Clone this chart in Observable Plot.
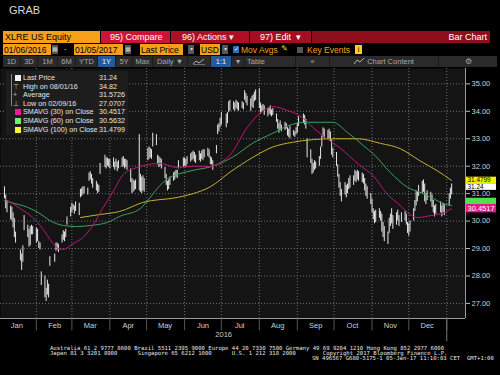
<!DOCTYPE html>
<html><head><meta charset="utf-8">
<script src="https://cdn.jsdelivr.net/npm/d3@7"></script>
<script src="https://cdn.jsdelivr.net/npm/@observablehq/plot@0.6"></script>
<style>
html,body{margin:0;padding:0;background:#000;}
body{width:500px;height:375px;position:relative;overflow:hidden;font-family:"Liberation Sans",Arial,sans-serif;}
.a{position:absolute;white-space:pre;box-sizing:border-box;line-height:1;}
.o{background:#f6a01a;color:#000;font-size:8.5px;height:11px;top:44px;padding:1.5px 0 0 1px;}
.r1{top:31px;height:12px;color:#fff;font-size:9px;padding-top:1.5px;}
.b{background:#2a2a2a;color:#a8a8a8;font-size:7.5px;height:11px;top:56px;text-align:center;padding-top:2px;}
.ic{background:#555;height:9px;top:45px;width:6px;color:#ccc;font-size:6px;text-align:center;padding-top:1px;}
.lg{font-size:7.2px;color:#e4e4e4;left:23px;}
.lv{font-size:7.2px;color:#e4e4e4;left:99px;}
.sq{width:6px;height:6px;left:15px;}
.ft{font-family:"DejaVu Sans Mono",monospace;font-size:5.6px;color:#e6e6e6;}
#chart{position:absolute;left:0;top:66px;}
</style></head><body>
<div class="a" style="left:9px;top:5px;font-size:11px;color:#d8d8d8;">GRAB</div>

<div class="a r1" style="left:3px;width:97px;background:#f6a01a;color:#000;padding-left:2px;">XLRE US Equity</div>
<div class="a r1" style="left:101px;width:69px;background:#cf1237;padding-left:9px;">95) Compare</div>
<div class="a r1" style="left:171px;width:78px;background:#ad1024;padding-left:11px;">96) Actions ▾</div>
<div class="a r1" style="left:250px;width:61px;background:#a30f20;padding-left:10px;">97) Edit  ▾</div>
<div class="a r1" style="left:312px;width:178px;background:#8e0e1d;text-align:right;padding-right:3px;">Bar Chart</div>

<div class="a o" style="left:3px;width:48px;">01/06/2016</div>
<div class="a ic" style="left:52px;">▦</div>
<div class="a" style="left:64px;top:45px;font-size:8px;color:#ccc;">-</div>
<div class="a o" style="left:74px;width:49px;">01/05/2017</div>
<div class="a ic" style="left:125px;">▦</div>
<div class="a o" style="left:140px;width:43px;">Last Price</div>
<div class="a ic" style="left:188px;">▾</div>
<div class="a o" style="left:200px;width:20px;">USD</div>
<div class="a ic" style="left:222px;">▾</div>
<div class="a" style="left:233px;top:46px;width:6px;height:7px;background:#2f6fb8;color:#fff;font-size:6px;text-align:center;">✓</div>
<div class="a" style="left:241px;top:45.5px;font-size:8.5px;color:#f6a01a;">Mov Avgs</div>
<div class="a" style="left:281px;top:45px;font-size:8px;color:#f2d21a;">✎</div>
<div class="a" style="left:297px;top:46.5px;width:6px;height:6px;background:#555;"></div>
<div class="a" style="left:307px;top:45.5px;font-size:8.5px;color:#f6a01a;">Key Events</div>
<div class="a" style="left:355px;top:45px;width:7px;height:9px;background:#f2d21a;color:#000;font-size:7px;text-align:center;padding-top:1px;">i</div>

<div class="a" style="left:3px;top:56px;width:494px;height:11px;background:#1c1c1c;"></div>
<div class="a b" style="left:3px;width:17px;">1D</div>
<div class="a b" style="left:21px;width:16px;">3D</div>
<div class="a b" style="left:38px;width:19px;">1M</div>
<div class="a b" style="left:58px;width:17px;">6M</div>
<div class="a b" style="left:76px;width:21px;">YTD</div>
<div class="a b" style="left:98px;width:17px;background:#245a9c;color:#e4eefa;">1Y</div>
<div class="a b" style="left:116px;width:16px;">5Y</div>
<div class="a b" style="left:133px;width:19px;">Max</div>
<div class="a b" style="left:153px;width:34px;">Daily ▼</div>
<div class="a b" style="left:188px;width:22px;"><svg width="12" height="7" style="display:block;margin:0 auto"><polyline points="0,6 3,3 6,5 11,1" fill="none" stroke="#b0b0b0" stroke-width="1"/><line x1="0" y1="7" x2="12" y2="7" stroke="#b0b0b0"/></svg></div>
<div class="a b" style="left:211px;width:20px;background:#245a9c;color:#e4eefa;">1:1</div>
<div class="a b" style="left:232px;width:12px;">▾</div>
<div class="a b" style="left:245px;width:50px;text-align:left;padding-left:2px;">Table</div>
<div class="a b" style="left:296px;width:33px;">«</div>
<div class="a b" style="left:330px;width:108px;"><svg width="11" height="7" style="display:inline-block;vertical-align:-1px"><polyline points="0,6 3,2 6,4 10,0" fill="none" stroke="#b0b0b0"/></svg> Chart Content</div>
<div class="a b" style="left:439px;width:58px;">⚙</div>

<div id="chart"></div>

<div class="a" style="left:6px;top:71px;width:122px;height:64px;background:#1d1d1d;"></div>
<div class="a" style="left:11px;top:74px;width:1px;height:32px;background:#888;"></div>
<div class="a sq" style="top:75px;background:#f2f2f2;"></div>
<div class="a" style="left:13px;top:82.5px;font-size:7px;color:#bbb;">⊤</div>
<div class="a" style="left:13px;top:91px;font-size:7px;color:#bbb;">+</div>
<div class="a" style="left:13px;top:99.5px;font-size:7px;color:#bbb;">⊥</div>
<div class="a sq" style="top:109px;background:#ee1a8e;"></div>
<div class="a sq" style="top:118px;background:#6ef26e;"></div>
<div class="a sq" style="top:126.5px;background:#f5f53a;"></div>
<div id="legend"></div>

<div class="a ft" style="left:50px;top:346px;">Australia 61 2 9777 8600 Brazil 5511 2395 9000 Europe 44 20 7330 7500 Germany 49 69 9204 1210 Hong Kong 852 2977 6000</div>
<div class="a ft" style="left:50px;top:351px;">Japan 81 3 3201 8900      Singapore 65 6212 1000      U.S. 1 212 318 2000        Copyright 2017 Bloomberg Finance L.P.</div>
<div class="a ft" style="left:312px;top:356px;">SN 496567 G680-5175-1 05-Jan-17 11:10:03 CET  GMT+1:00</div>

<script>
// ---- Daily bars: [day, low, high] per month ----
const jan16 = [[6,30.80,31.25],[7,30.45,30.95],[8,30.30,30.75],[11,30.05,30.55],[12,30.00,30.50],[13,29.75,30.30],[14,29.40,30.10],[15,29.20,29.60],[19,28.55,28.95],[20,28.20,28.80],[21,28.50,29.10],[22,29.65,30.20],[25,29.40,29.85],[26,29.05,29.70],[27,29.10,29.80],[28,29.50,29.85],[29,29.50,29.80]];
const feb16 = [[1,29.20,29.75],[2,29.25,29.70],[3,29.00,29.25],[4,28.95,29.20],[5,27.65,28.15],[8,27.20,28.00],[9,27.07,27.55],[10,27.30,27.85],[11,27.20,27.70],[12,28.35,28.70],[16,28.50,28.80],[17,28.90,29.20],[18,28.95,29.20],[19,28.85,29.15],[22,29.20,29.50],[23,29.30,29.65],[24,29.25,29.60],[25,29.40,29.70],[26,29.85,30.15],[29,30.15,30.50]];
const mar16 = [[1,30.30,30.65],[2,30.40,30.60],[3,30.25,30.55],[4,30.35,30.70],[7,30.20,30.65],[8,30.85,31.15],[9,30.90,31.20],[10,30.95,31.25],[11,31.00,31.25],[14,30.95,31.20],[15,31.45,31.75],[16,31.50,31.80],[17,31.35,31.70],[18,31.20,31.55],[21,31.10,31.45],[22,31.00,31.35],[23,31.05,31.30],[24,31.70,32.10],[28,31.95,32.40],[29,31.90,32.30],[30,32.00,32.30],[31,31.95,32.25]];
const apr16 = [[1,31.90,32.25],[4,31.95,32.30],[5,31.85,32.15],[6,31.95,32.25],[7,31.80,32.15],[8,31.90,32.20],[11,31.95,32.30],[12,32.00,32.35],[13,31.90,32.25],[14,31.95,32.25],[15,31.85,32.20],[18,31.40,31.90],[19,31.00,31.55],[20,31.05,31.50],[21,31.10,31.45],[22,31.15,31.50],[25,31.10,33.15],[26,31.05,31.70],[27,31.00,31.60],[28,31.10,31.65],[29,31.05,31.55]];
const may16 = [[2,32.20,32.65],[3,32.25,32.70],[4,32.30,32.65],[5,32.25,32.60],[6,32.70,33.20],[9,32.75,33.15],[10,32.05,32.40],[11,31.95,32.35],[12,32.00,32.30],[13,31.90,32.25],[16,31.55,31.95],[17,31.30,31.70],[18,31.10,31.45],[19,31.15,31.50],[20,31.30,31.60],[23,31.45,31.75],[24,31.50,31.80],[25,31.60,31.85],[26,31.55,31.85],[27,31.90,32.20],[31,31.95,32.30]];
const jun16 = [[1,32.00,32.30],[2,31.95,32.25],[3,32.05,32.35],[6,32.15,32.45],[7,32.20,32.50],[8,32.25,32.55],[9,32.15,32.50],[10,32.10,32.40],[13,32.20,32.55],[14,32.15,32.45],[15,32.25,32.55],[16,32.20,32.60],[17,32.30,32.60],[20,32.35,32.65],[21,32.30,32.60],[22,32.05,32.35],[23,32.05,32.30],[24,31.85,32.20],[27,32.45,32.75],[28,33.15,33.50],[29,33.25,33.55],[30,33.40,33.75]];
const jul16 = [[1,33.50,33.95],[5,33.40,33.90],[6,33.55,33.95],[7,33.95,34.35],[8,34.00,34.40],[11,34.05,34.35],[12,34.00,34.30],[13,34.10,34.40],[14,34.05,34.35],[15,34.00,34.30],[18,34.10,34.35],[19,34.05,34.30],[20,34.40,34.75],[21,34.30,34.65],[22,34.20,34.55],[25,34.00,34.45],[26,34.15,34.55],[27,34.10,34.60],[28,34.35,34.70],[29,34.40,34.78]];
const aug16 = [[1,34.10,34.82],[2,33.90,34.30],[3,33.95,34.20],[4,34.00,34.25],[5,33.85,34.20],[8,33.80,34.10],[9,33.90,34.15],[10,33.85,34.20],[11,33.80,34.05],[12,33.85,34.10],[15,33.60,33.90],[16,33.35,33.70],[17,33.20,33.55],[18,33.30,33.65],[19,33.25,33.50],[22,33.30,33.60],[23,33.35,33.55],[24,33.10,33.40],[25,33.05,33.35],[26,33.00,33.45],[29,33.10,33.30],[30,33.05,33.25],[31,33.15,33.40]];
const sep16 = [[1,33.20,33.55],[2,33.45,33.80],[6,33.55,33.90],[7,33.50,33.85],[8,33.35,33.70],[9,32.30,33.00],[12,32.10,32.60],[13,31.70,32.25],[14,31.75,32.10],[15,31.85,32.20],[16,31.90,32.15],[19,32.00,32.35],[20,32.25,32.70],[21,32.70,33.10],[22,33.05,33.40],[23,33.00,33.35],[26,32.95,33.30],[27,33.00,33.35],[28,32.90,33.25],[29,32.40,32.95],[30,32.30,32.65]];
const oct16 = [[3,32.00,32.50],[4,31.60,32.05],[5,31.20,31.70],[6,30.90,31.40],[7,30.70,31.15],[10,30.95,31.40],[11,30.85,31.30],[12,31.00,31.35],[13,31.15,31.55],[14,31.20,31.65],[17,31.30,31.65],[18,31.45,31.85],[19,31.40,31.80],[20,31.50,31.85],[21,31.45,31.80],[24,31.40,31.75],[25,31.35,31.70],[26,31.10,31.55],[27,30.90,31.35],[28,30.80,31.25],[31,30.60,31.00]];
const nov16 = [[1,30.30,30.80],[2,30.05,30.45],[3,29.90,30.35],[4,29.95,30.40],[7,30.10,30.45],[8,30.00,30.35],[9,29.60,30.25],[10,29.40,29.95],[11,29.25,29.80],[14,29.15,29.60],[15,29.55,30.10],[16,29.80,30.25],[17,29.90,30.45],[18,29.70,30.20],[21,29.85,30.30],[22,30.00,30.40],[23,29.80,30.20],[25,29.95,30.30],[28,30.00,30.35],[29,29.85,30.25],[30,29.55,29.95]];
const dec16 = [[1,29.45,29.90],[2,29.60,30.00],[5,30.00,30.45],[6,30.35,30.75],[7,30.55,31.10],[8,30.70,31.05],[9,30.90,31.30],[12,31.00,31.45],[13,31.05,31.50],[14,30.70,31.35],[15,30.60,31.00],[16,30.75,31.10],[19,30.70,31.05],[20,30.50,30.95],[21,30.30,30.75],[22,30.15,30.55],[23,30.25,30.60],[27,30.30,30.70],[28,30.15,30.55],[29,30.30,30.65],[30,30.20,30.60]];
const jan17 = [[3,30.55,31.00],[4,30.80,31.20],[5,30.95,31.35]];

// ---- Moving averages: [date, value] ----
const ma30 = [["2016-01-06",30.82],["2016-01-19",30.45],["2016-01-29",30.13],["2016-02-06",29.73],["2016-02-14",29.22],["2016-02-19",29.00],["2016-02-23",28.97],["2016-03-02",29.18],["2016-03-10",29.40],["2016-03-18",29.84],["2016-03-26",30.45],["2016-04-04",31.10],["2016-04-12",31.70],["2016-04-23",31.95],["2016-05-12",32.10],["2016-05-26",31.95],["2016-06-08",32.00],["2016-06-22",31.99],["2016-06-30",32.13],["2016-07-08",32.40],["2016-07-22",33.40],["2016-08-02",33.95],["2016-08-12",34.17],["2016-08-24",34.03],["2016-09-03",33.84],["2016-09-14",33.40],["2016-09-25",33.00],["2016-10-06",32.66],["2016-10-22",32.03],["2016-11-02",31.65],["2016-11-13",31.00],["2016-11-24",30.57],["2016-12-02",30.24],["2016-12-08",30.13],["2016-12-19",30.20],["2016-12-27",30.27],["2017-01-05",30.45]];
const ma60 = [["2016-01-06",30.75],["2016-01-11",30.68],["2016-01-25",30.50],["2016-02-04",30.27],["2016-02-12",30.02],["2016-02-23",29.84],["2016-03-05",29.80],["2016-03-16",29.84],["2016-03-30",29.95],["2016-04-09",30.17],["2016-04-26",30.46],["2016-05-04",30.87],["2016-05-12",31.30],["2016-05-20",31.60],["2016-05-26",31.70],["2016-06-08",31.85],["2016-06-24",32.00],["2016-07-11",32.35],["2016-07-27",32.85],["2016-08-12",33.20],["2016-08-26",33.50],["2016-09-08",33.60],["2016-09-30",33.60],["2016-10-12",33.23],["2016-10-25",32.75],["2016-11-02",32.45],["2016-11-16",31.77],["2016-11-30",31.23],["2016-12-10",31.05],["2016-12-21",30.82],["2016-12-29",30.64],["2017-01-05",30.56]];
const ma100 = [["2016-03-08",30.13],["2016-03-24",30.24],["2016-04-09",30.35],["2016-04-28",30.68],["2016-05-26",30.86],["2016-06-08",31.00],["2016-06-22",31.25],["2016-07-08",31.78],["2016-07-27",32.33],["2016-08-12",32.70],["2016-08-28",32.87],["2016-09-14",32.97],["2016-09-30",33.00],["2016-10-20",33.00],["2016-11-08",32.83],["2016-11-24",32.64],["2016-12-10",32.20],["2016-12-24",31.84],["2017-01-05",31.48]];

// ---- Axis / legend text ----
const yTicks = [27, 28, 29, 30, 31, 32, 33, 34, 35];
const yearLabel = "2016";
const legendNames = ["Last Price", "High on 08/01/16", "Average", "Low on 02/09/16", "SMAVG (30) on Close", "SMAVG (60) on Close", "SMAVG (100) on Close"];
const legendValues = ["31.24", "34.82", "31.5726", "27.0707", "30.4517", "30.5632", "31.4799"];
// right-edge tags: value, box colour, text colour, text shown (the 60-day tag sits hidden under the 30-day one)
const tagValues = [31.4799, 31.24, 30.5632, 30.4517];
const tagColors = ["#f5f000", "#ffffff", "#4fe04f", "#e8168a"];
const tagTextColors = ["#000", "#000", "#000", "#fff"];
const tagLabels = ["31.4799", "31.24", "", "30.4517"];
const tagHeights = [6.6, 6.6, 8.4, 8.4];
const tagShift = [0, 0, -3.2, 0];

// legend text
const lg = document.getElementById("legend");
legendNames.forEach((n, i) => {
  const top = 74 + i * 8.6;
  lg.insertAdjacentHTML("beforeend", `<div class="a lg" style="top:${top}px">${n}</div><div class="a lv" style="top:${top}px">${legendValues[i]}</div>`);
});

const monthsData = [[2016,0,jan16],[2016,1,feb16],[2016,2,mar16],[2016,3,apr16],[2016,4,may16],[2016,5,jun16],[2016,6,jul16],[2016,7,aug16],[2016,8,sep16],[2016,9,oct16],[2016,10,nov16],[2016,11,dec16],[2017,0,jan17]];
const bars = [];
monthsData.forEach(([y, m, rows]) => rows.forEach(([d, lo, hi]) => bars.push({date: new Date(Date.UTC(y, m, d)), low: lo, high: hi})));
const parse = d3.utcParse("%Y-%m-%d");
const toPts = arr => arr.map(([d, v]) => ({date: parse(d), v}));

const xDomain = [new Date(Date.UTC(2016,0,2,17,30)), new Date(Date.UTC(2017,0,16,7,10))];
const yDomain = [26.45, 35.56];
const monthStarts = d3.utcMonths(new Date(Date.UTC(2016,1,1)), new Date(Date.UTC(2017,0,2)));
const midMonths = d3.utcMonths(new Date(Date.UTC(2016,0,1)), new Date(Date.UTC(2016,11,2))).map(d => d3.utcDay.offset(d, 15));
const yearMid = new Date((xDomain[0].getTime() + Date.UTC(2017,0,1)) / 2);
const grid = "#7c7c7c";

const plot = Plot.plot({
  width: 500, height: 276,
  marginTop: 2, marginBottom: 24, marginLeft: 0, marginRight: 35,
  style: {background: "transparent", color: "#d0d0d0", fontFamily: "Liberation Sans, Arial, sans-serif", fontSize: "7.5px"},
  x: {type: "utc", domain: xDomain, axis: null},
  y: {domain: yDomain, axis: null},
  marks: [
    Plot.frame({fill: "#141414", stroke: null}),
    Plot.gridY(yTicks, {stroke: grid, strokeOpacity: 0.9, strokeDasharray: "1,2"}),
    Plot.gridX(monthStarts, {stroke: grid, strokeOpacity: 0.9, strokeDasharray: "1,2"}),
    Plot.ruleX(bars, {x: "date", y1: "low", y2: "high", stroke: "#e6e6e6", strokeWidth: 1}),
    Plot.line(toPts(ma100), {x: "date", y: "v", stroke: "#c4b12e", strokeWidth: 1, curve: "monotone-x"}),
    Plot.line(toPts(ma60), {x: "date", y: "v", stroke: "#3d a15c".replace(" ", ""), strokeWidth: 1, curve: "monotone-x"}),
    Plot.line(toPts(ma30), {x: "date", y: "v", stroke: "#be1678", strokeWidth: 1, curve: "monotone-x"}),
    Plot.ruleY([yDomain[0]], {stroke: "#9a9a9a"}),
    Plot.ruleX([xDomain[1]], {stroke: "#9a9a9a"}),
    Plot.ruleX(monthStarts, {y1: yDomain[0], y2: 26.0, stroke: "#555"}),
    Plot.ruleX([new Date(Date.UTC(2017,0,1))], {y1: yDomain[0], y2: 25.6, stroke: "#777"}),
    Plot.axisY(yTicks, {anchor: "right", tickFormat: d => d.toFixed(2), tickSize: 4, tickPadding: 2, stroke: "#bbb", fill: "#d0d0d0", fontSize: 7.5, label: null}),
    Plot.axisX(midMonths, {anchor: "bottom", tickSize: 0, tickPadding: 4, tickFormat: d3.utcFormat("%b"), fill: "#d0d0d0", fontSize: 7.5, label: null}),
    Plot.text([yearLabel], {x: [yearMid], frameAnchor: "bottom", dy: 18, fill: "#c8c8c8", fontSize: 7.5})
  ]
});
document.getElementById("chart").appendChild(plot);

// right-side value tags positioned through the plot's y scale
const ys = plot.scale("y");
const svg = d3.select(plot);
tagValues.forEach((v, i) => {
  const cy = ys.apply(v) + tagShift[i];
  const h = tagHeights[i];
  const g = svg.append("g");
  g.append("rect").attr("x", 466).attr("y", cy - h / 2).attr("width", 30).attr("height", h).attr("fill", tagColors[i]);
  if (tagLabels[i]) {
    g.append("text").attr("x", 467.5).attr("y", cy).attr("dy", "0.36em").attr("text-anchor", "start")
      .attr("fill", tagTextColors[i]).attr("font-size", h > 7 ? 7.5 : 6.4)
      .attr("font-family", "Liberation Sans, Arial, sans-serif").text(tagLabels[i]);
  }
});
</script>
</body></html>
